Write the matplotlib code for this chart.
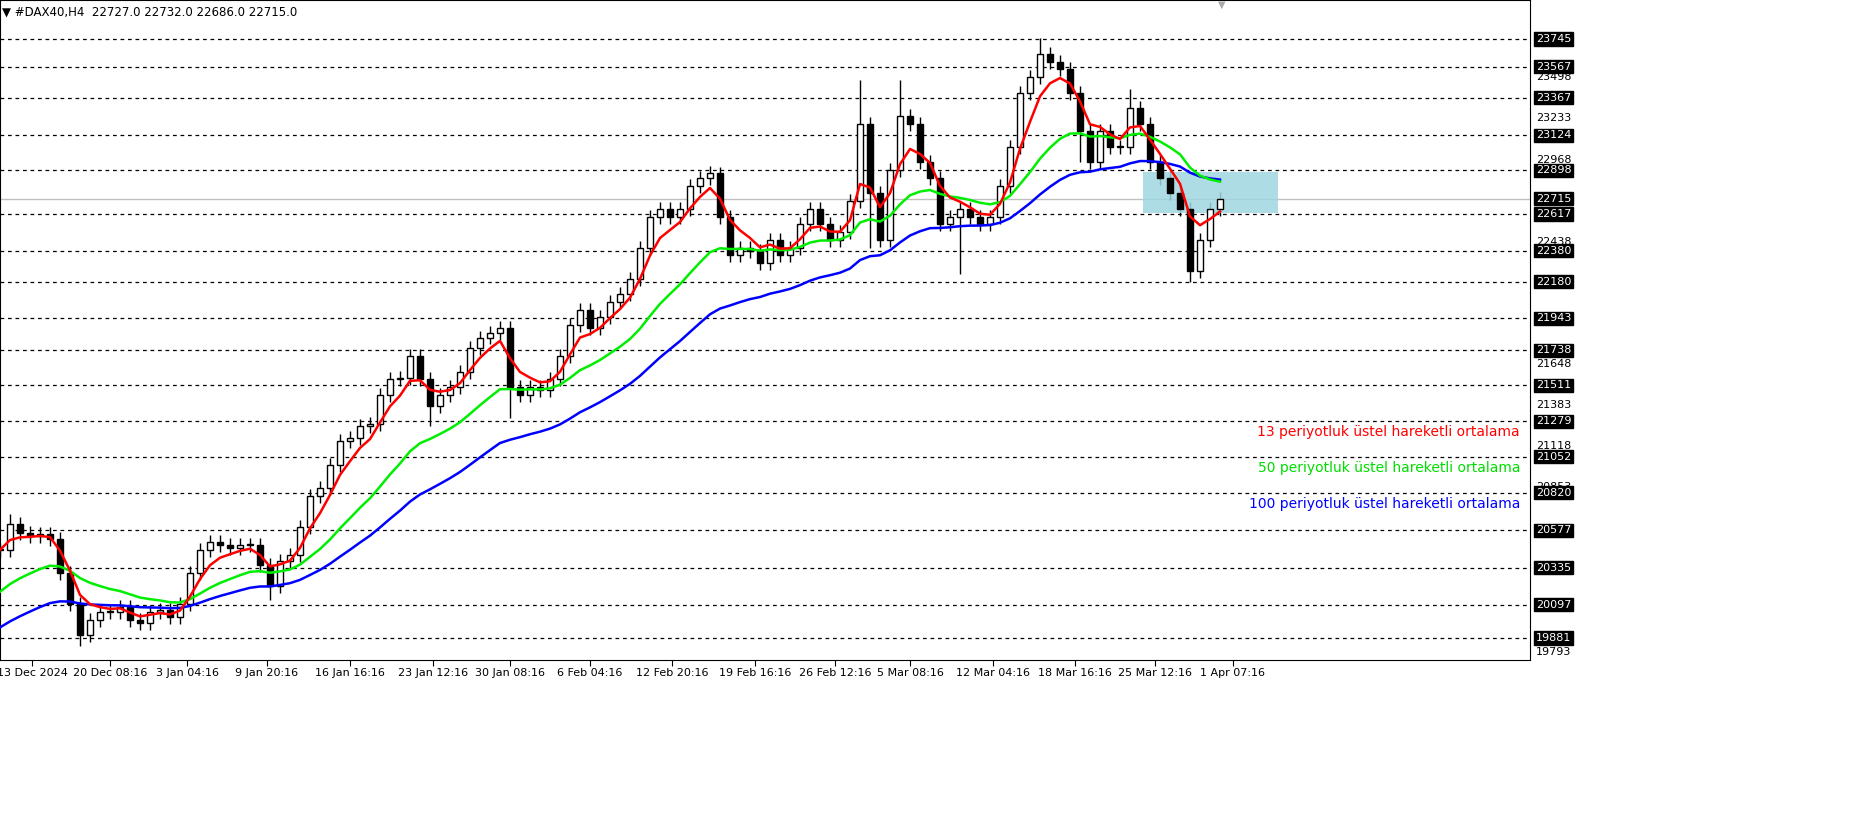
import matplotlib.pyplot as plt
import numpy as np

# closes, one candle per ~10 px of the original chart
closes = [20450, 20620, 20560, 20540, 20550, 20520, 20300, 20100, 19900, 20000,
          20050, 20050, 20080, 20000, 19980, 20050, 20060, 20020, 20100, 20300,
          20450, 20500, 20480, 20460, 20480, 20480, 20350, 20220, 20380, 20420,
          20600, 20800, 20850, 21000, 21150, 21170, 21250, 21260, 21450, 21550,
          21560, 21700, 21550, 21380, 21450, 21500, 21600, 21750, 21820, 21850,
          21880, 21500, 21450, 21500, 21480, 21550, 21700, 21900, 22000, 21880,
          21950, 22050, 22100, 22200, 22400, 22600, 22650, 22600, 22650, 22800,
          22850, 22880, 22600, 22350, 22400, 22380, 22300, 22450, 22350, 22400,
          22550, 22650, 22550, 22450, 22500, 22700, 23200, 22750, 22450, 22900,
          23250, 23200, 22950, 22850, 22550, 22600, 22650, 22600, 22550, 22600,
          22800, 23050, 23400, 23500, 23650, 23600, 23550, 23400, 23150, 22950,
          23150, 23050, 23050, 23300, 23200, 22950, 22850, 22750, 22650, 22250,
          22450, 22650, 22715]
spike_high = {86: 23480, 90: 23480, 104: 23750, 113: 23420, 1: 20680, 72: 22920}
spike_low = {8: 19830, 27: 20130, 43: 21250, 51: 21300, 87: 22400, 96: 22230, 119: 22180, 108: 22950}

ema_seeds = {'13': 20450, '50': 20180, '100': 19950}
ema_spans = {'13': 13 / 3.0, '50': 50 / 3.0, '100': 100 / 3.0}
ema_colors = {'13': '#ff0000', '50': '#00ee00', '100': '#0000ff'}

boxed_levels = [23745, 23567, 23367, 23124, 22898, 22715, 22617, 22380, 22180, 21943,
                21738, 21511, 21279, 21052, 20820, 20577, 20335, 20097, 19881]
plain_levels = [23498, 23233, 22968, 22438, 21648, 21383, 21118, 20853, 19793]
date_pos = [3.2, 11, 18.7, 26.7, 35, 43.3, 51, 59, 67.2, 75.5, 83.5, 91, 99.3, 107.5, 115.5, 123.3]
date_labels = ['13 Dec 2024', '20 Dec 08:16', '3 Jan 04:16', '9 Jan 20:16', '16 Jan 16:16',
               '23 Jan 12:16', '30 Jan 08:16', '6 Feb 04:16', '12 Feb 20:16', '19 Feb 16:16',
               '26 Feb 12:16', '5 Mar 08:16', '12 Mar 04:16', '18 Mar 16:16', '25 Mar 12:16',
               '1 Apr 07:16']
legend_texts = ['13 periyotluk üstel hareketli ortalama',
                '50 periyotluk üstel hareketli ortalama',
                '100 periyotluk üstel hareketli ortalama']
legend_y = [21210, 20978, 20746]
legend_colors = ['#ff0000', '#00dd00', '#0000ff']

W, H = 1871, 823
fig = plt.figure(figsize=(W / 100, H / 100), dpi=100)
ax = fig.add_axes([0, (H - 660) / H, 1530 / W, 660 / H])
ax.set_xlim(0, 153)
ax.set_ylim(19740, 23997)

# grid levels
for lv in boxed_levels:
    if lv == 22715:
        ax.axhline(lv, color='#c0c0c0', lw=1)
    else:
        ax.axhline(lv, color='black', lw=0.9, ls=(0, (3, 3)))

# candles, open = previous close
opens = [closes[0]] + closes[:-1]
for i, (o, c) in enumerate(zip(opens, closes)):
    hi = spike_high.get(i, max(o, c) + 45)
    lo = spike_low.get(i, min(o, c) - 45)
    ax.vlines(i, lo, hi, color='black', lw=1)
    b = max(abs(c - o), 8)
    face = 'white' if c >= o else 'black'
    ax.add_patch(plt.Rectangle((i - 0.3, min(o, c)), 0.6, b, facecolor=face,
                               edgecolor='black', lw=1, zorder=3))

# EMAs
for k in ['100', '50', '13']:
    a = 2 / (ema_spans[k] + 1)
    e = [ema_seeds[k]]
    for c in closes[1:]:
        e.append(a * c + (1 - a) * e[-1])
    ax.plot(range(len(closes)), e, color=ema_colors[k], lw=1.8, zorder=4)

ax.add_patch(plt.Rectangle((114.3, 22623), 13.5, 264, facecolor='#9fd6e0',
                           edgecolor='none', alpha=0.85, zorder=2))

for t, y, col in zip(legend_texts, legend_y, legend_colors):
    ax.text(152, y, t, color=col, ha='right', va='center', fontsize=10)

ax.set_xticks(date_pos)
ax.set_xticklabels(date_labels, fontsize=8)
ax.tick_params(axis='x', length=4, pad=2)
ax.set_yticks([])
for lv in plain_levels:
    ax.text(1.004, (lv - 19740) / (23997 - 19740), str(lv), transform=ax.transAxes,
            fontsize=8, va='center', ha='left')
for lv in boxed_levels:
    ax.text(1.004, (lv - 19740) / (23997 - 19740), str(lv), transform=ax.transAxes,
            fontsize=8, va='center', ha='left', color='white',
            bbox=dict(boxstyle='square,pad=0.15', fc='black', ec='black'))
for s in ax.spines.values():
    s.set_color('black')

fig.text(0.001, 1 - 12 / H, '\u25bc #DAX40,H4  22727.0 22732.0 22686.0 22715.0',
         fontsize=8.5, va='center', ha='left')
fig.text(1222 / W, 1 - 5 / H, '\u25bc', color='#aaaaaa', fontsize=7, ha='center', va='center')

fig.savefig('out.png', dpi=100)
